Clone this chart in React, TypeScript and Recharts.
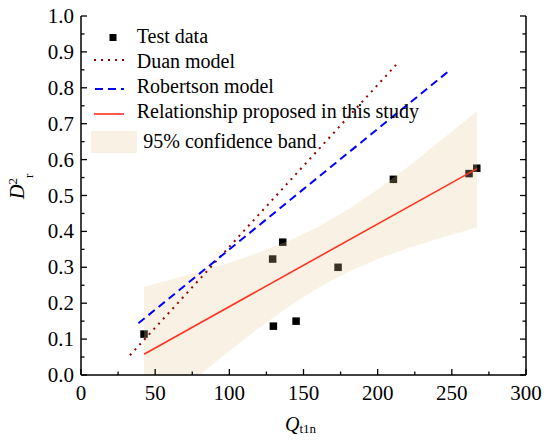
import React from 'react';
import { ComposedChart, XAxis, YAxis, Scatter, Area, Line, Legend, Label } from 'recharts';

const FONT = 'Liberation Serif';

// Axis ticks
const xMajorTicks = [0, 50, 100, 150, 200, 250, 300];
const xMinorTicks = [25, 75, 125, 175, 225, 275];
const yMajorTicks = [0, 0.1, 0.2, 0.3, 0.4, 0.5, 0.6, 0.7, 0.8, 0.9, 1.0];
const yMinorTicks = [0.05, 0.15, 0.25, 0.35, 0.45, 0.55, 0.65, 0.75, 0.85, 0.95];

// Test data
const testX = [42.5, 129.2, 136, 129.7, 145, 173.3, 210.6, 261.6, 266.8];
const testY = [0.114, 0.323, 0.37, 0.136, 0.15, 0.3, 0.545, 0.561, 0.576];

// 95% confidence band
const bandX = [42.5, 60, 80, 100, 120, 140, 160, 180, 200, 220, 240, 267];
const bandLow = [-0.13, -0.069, 0.0, 0.067, 0.131, 0.19, 0.243, 0.287, 0.323, 0.353, 0.379, 0.411];
const bandHigh = [0.246, 0.265, 0.288, 0.313, 0.341, 0.374, 0.413, 0.461, 0.517, 0.579, 0.645, 0.735];

// Model lines
const duanX = [33, 212.4];
const duanY = [0.055, 0.864];
const robertsonX = [38.7, 248.4];
const robertsonY = [0.144, 0.848];
const proposedX = [42.5, 267];
const proposedY = [0.058, 0.575];

const testData = testX.map((x, i) => ({ x, y: testY[i] }));
const bandData = bandX.map((x, i) => ({ x, range: [bandLow[i], bandHigh[i]] }));
const duanData = duanX.map((x, i) => ({ x, y: duanY[i] }));
const robertsonData = robertsonX.map((x, i) => ({ x, y: robertsonY[i] }));
const proposedData = proposedX.map((x, i) => ({ x, y: proposedY[i] }));

const xTicks = [...xMajorTicks, ...xMinorTicks].sort((a, b) => a - b);
const yTicks = [...yMajorTicks, ...yMinorTicks].sort((a, b) => a - b);

const isMajor = (v: number, majors: number[]) => majors.some((m) => Math.abs(m - v) < 1e-9);

const BAND_COLOR = '#E8C890';
const TICK_W = 1.3;

function BottomTick(props: any) {
  const { x, y, payload } = props;
  const major = isMajor(payload.value, xMajorTicks);
  return (
    <g>
      <line x1={x} y1={y} x2={x} y2={y - (major ? 6 : 3.5)} stroke="#000" strokeWidth={TICK_W} />
      {major && (
        <text x={x} y={y + 25} textAnchor="middle" style={{ fontFamily: FONT }} fontSize={21} fill="#000">
          {payload.value}
        </text>
      )}
    </g>
  );
}

function TopTick(props: any) {
  const { x, y, payload } = props;
  const major = isMajor(payload.value, xMajorTicks);
  return <line x1={x} y1={y} x2={x} y2={y + (major ? 6 : 3.5)} stroke="#000" strokeWidth={TICK_W} />;
}

function LeftTick(props: any) {
  const { x, y, payload } = props;
  const major = isMajor(payload.value, yMajorTicks);
  return (
    <g>
      <line x1={x} y1={y} x2={x + (major ? 6 : 3.5)} y2={y} stroke="#000" strokeWidth={TICK_W} />
      {major && (
        <text x={x - 7} y={y + 7} textAnchor="end" style={{ fontFamily: FONT }} fontSize={21} fill="#000">
          {Number(payload.value).toFixed(1)}
        </text>
      )}
    </g>
  );
}

function RightTick(props: any) {
  const { x, y, payload } = props;
  const major = isMajor(payload.value, yMajorTicks);
  return <line x1={x} y1={y} x2={x - (major ? 6 : 3.5)} y2={y} stroke="#000" strokeWidth={TICK_W} />;
}

function SquareShape(props: any) {
  const { cx, cy } = props;
  const s = 7.5;
  return <rect x={cx - s / 2} y={cy - s / 2} width={s} height={s} fill="#000" />;
}

function YTitle(props: any) {
  const vb = props.viewBox;
  const x = vb.x + 24;
  const y = vb.y + vb.height / 2 + 3.5;
  return (
    <text x={x} y={y} transform={`rotate(-90 ${x} ${y})`} style={{ fontFamily: FONT }} fontSize={20} fill="#000">
      <tspan fontStyle="italic">D</tspan>
      <tspan fontSize={13} dy={-7}>2</tspan>
      <tspan fontSize={13} dy={16}>r</tspan>
    </text>
  );
}

function XTitle(props: any) {
  const vb = props.viewBox;
  const x = vb.x + 204;
  const y = vb.y + 56;
  return (
    <text x={x} y={y} style={{ fontFamily: FONT }} fontSize={20} fill="#000">
      <tspan fontStyle="italic">Q</tspan>
      <tspan fontSize={13} dy={2}>t1n</tspan>
    </text>
  );
}

const LX = 85;
const LY = 20;

function LegendContent() {
  const t = (y: number) => y - LY;
  const l = (x: number) => x - LX;
  const textProps = { style: { fontFamily: FONT }, fontSize: 20, fill: '#000' };
  return (
    <svg width={340} height={140} style={{ display: 'block', overflow: 'visible' }}>
      <rect x={l(113) - 3.5} y={t(37.5) - 3.5} width={7} height={7} fill="#000" />
      <text x={l(136.7)} y={t(43.3)} {...textProps}>Test data</text>
      <line x1={l(94)} y1={t(60)} x2={l(124)} y2={t(60)} stroke="#990000" strokeWidth={2} strokeDasharray="2 5" />
      <text x={l(136.7)} y={t(68.3)} {...textProps}>Duan model</text>
      <line x1={l(95)} y1={t(89)} x2={l(124)} y2={t(89)} stroke="#0000FF" strokeWidth={2} strokeDasharray="8 5" />
      <text x={l(136.7)} y={t(93.3)} {...textProps}>Robertson model</text>
      <line x1={l(94)} y1={t(114)} x2={l(124)} y2={t(114)} stroke="#FF3322" strokeWidth={1.6} />
      <text x={l(136.7)} y={t(118.3)} {...textProps}>Relationship proposed in this study</text>
      <rect x={l(91)} y={t(131)} width={46} height={22} fill={BAND_COLOR} fillOpacity={0.25} />
      <text x={l(143.3)} y={t(148.3)} {...textProps}>95% confidence band</text>
    </svg>
  );
}

export default function App() {
  return (
    <div style={{ width: 550, height: 443, fontFamily: FONT }}>
      <style>{`body{margin:0;}`}</style>
      <ComposedChart width={550} height={443} margin={{ top: 16, right: 0, bottom: 0, left: 0 }} style={{ fontFamily: FONT }}>
        <XAxis
          xAxisId={0}
          type="number"
          dataKey="x"
          domain={[0, 300]}
          ticks={xTicks}
          interval={0}
          allowDataOverflow
          orientation="bottom"
          height={68}
          tickSize={0}
          tickMargin={0}
          tickLine={false}
          tick={<BottomTick />}
          axisLine={{ stroke: '#000', strokeWidth: 1.5 }}
        >
          <Label content={<XTitle />} />
        </XAxis>
        <XAxis
          xAxisId="top"
          type="number"
          dataKey="x"
          domain={[0, 300]}
          ticks={xTicks}
          interval={0}
          allowDataOverflow
          orientation="top"
          height={0}
          tickSize={0}
          tickMargin={0}
          tickLine={false}
          tick={<TopTick />}
          axisLine={{ stroke: '#000', strokeWidth: 1.5 }}
        />
        <YAxis
          yAxisId={0}
          type="number"
          domain={[0, 1]}
          ticks={yTicks}
          interval={0}
          allowDataOverflow
          orientation="left"
          width={81}
          tickSize={0}
          tickMargin={0}
          tickLine={false}
          tick={<LeftTick />}
          axisLine={{ stroke: '#000', strokeWidth: 1.5 }}
        >
          <Label content={<YTitle />} />
        </YAxis>
        <YAxis
          yAxisId="right"
          type="number"
          domain={[0, 1]}
          ticks={yTicks}
          interval={0}
          allowDataOverflow
          orientation="right"
          width={24}
          tickSize={0}
          tickMargin={0}
          tickLine={false}
          tick={<RightTick />}
          axisLine={{ stroke: '#000', strokeWidth: 1.5 }}
        />
        <Legend
          layout="horizontal"
          verticalAlign="middle"
          align="center"
          content={<LegendContent />}
          wrapperStyle={{ position: 'absolute', left: LX, top: LY, width: 340, height: 140, margin: 0, padding: 0 }}
        />
        <Scatter
          name="Test data"
          data={testData}
          dataKey="y"
          shape={<SquareShape />}
          isAnimationActive={false}
          zIndex={50}
        />
        <Area
          name="95% confidence band"
          data={bandData}
          dataKey="range"
          type="linear"
          stroke="none"
          fill={BAND_COLOR}
          fillOpacity={0.25}
          isAnimationActive={false}
          dot={false}
          activeDot={false}
          zIndex={100}
        />
        <Line
          name="Duan model"
          data={duanData}
          dataKey="y"
          stroke="#990000"
          strokeWidth={2}
          strokeDasharray="2 5"
          dot={false}
          activeDot={false}
          isAnimationActive={false}
        />
        <Line
          name="Robertson model"
          data={robertsonData}
          dataKey="y"
          stroke="#0000FF"
          strokeWidth={2}
          strokeDasharray="8 5"
          dot={false}
          activeDot={false}
          isAnimationActive={false}
        />
        <Line
          name="Relationship proposed in this study"
          data={proposedData}
          dataKey="y"
          stroke="#FF3322"
          strokeWidth={1.6}
          dot={false}
          activeDot={false}
          isAnimationActive={false}
        />
      </ComposedChart>
    </div>
  );
}
